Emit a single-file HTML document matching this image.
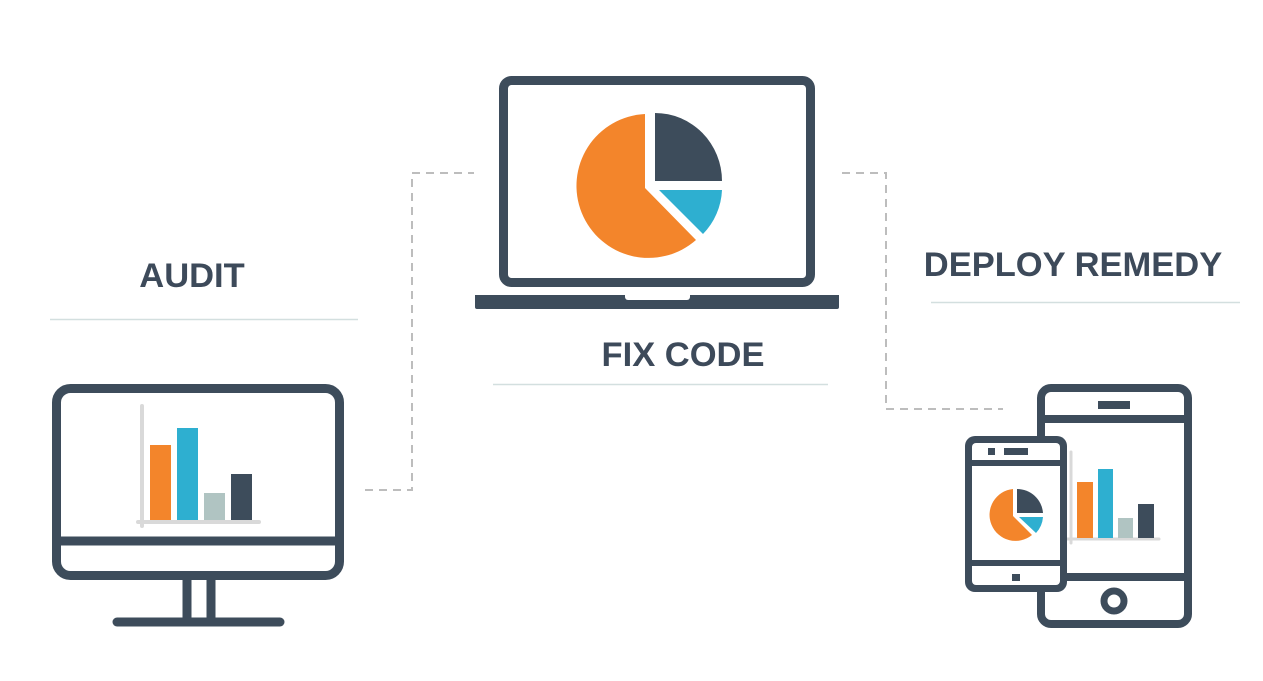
<!DOCTYPE html>
<html><head><meta charset="utf-8"><style>
html,body{margin:0;padding:0;background:#fff;}
body{width:1263px;height:681px;overflow:hidden;position:relative;}
</style></head><body>
<svg width="1263" height="681" viewBox="0 0 1263 681" xmlns="http://www.w3.org/2000/svg" style="position:absolute;left:0;top:0">
<g fill="none" stroke="#bdbdbd" stroke-width="2" stroke-dasharray="8,6">
<polyline points="365,490 412,490 412,173 474,173"/>
<polyline points="842,173 886,173 886,409 1003,409"/>
</g>
<g font-family="Liberation Sans, sans-serif" font-weight="bold" font-size="34.5" fill="#3d4a5a" text-anchor="middle">
<text x="192" y="287">AUDIT</text>
<text x="683" y="366">FIX CODE</text>
<text x="1073" y="276">DEPLOY REMEDY</text>
</g>
<g stroke="#d3dfdf" stroke-width="1.5">
<line x1="50" y1="319.5" x2="358" y2="319.5"/>
<line x1="493" y1="384.5" x2="828" y2="384.5"/>
<line x1="931" y1="302.5" x2="1240" y2="302.5"/>
</g>
<g stroke="#3d4c5b" stroke-width="9" fill="none">
<rect x="56.5" y="388.5" width="283" height="187" rx="14"/>
<line x1="56" y1="541" x2="340" y2="541"/>
<line x1="187" y1="580" x2="187" y2="618"/>
<line x1="211" y1="580" x2="211" y2="618"/>
<line x1="117" y1="622" x2="280" y2="622" stroke-linecap="round"/>
</g>
<g stroke="#d9d9d9" stroke-width="4" stroke-linecap="round">
<line x1="142" y1="406" x2="142" y2="526"/>
<line x1="138" y1="522" x2="259" y2="522"/>
</g>
<rect x="150" y="445" width="21" height="75" fill="#f3852b"/>
<rect x="177" y="428" width="21" height="92" fill="#2eafd0"/>
<rect x="204" y="493" width="21" height="27" fill="#b0c4c2"/>
<rect x="231" y="474" width="21" height="46" fill="#3d4c5b"/>
<rect x="503.5" y="80.5" width="307" height="202" rx="8" stroke="#3d4c5b" stroke-width="9" fill="none"/>
<path d="M475 295 H839 V307 a2 2 0 0 1 -2 2 H477 a2 2 0 0 1 -2 -2 Z" fill="#3d4c5b"/>
<path d="M625 295 H690 V297 a3 3 0 0 1 -3 3 H628 a3 3 0 0 1 -3 -3 Z" fill="#fff"/>
<path d="M655 181 V113 A67 68 0 0 1 722 181 Z" fill="#3d4c5b"/>
<path d="M659 190 H722 A67 67 0 0 1 703 234 Z" fill="#2eafd0"/>
<path d="M645 188 V114 A72 72 0 1 0 696 240 Z" fill="#f3852b"/>
<g stroke="#3d4c5b" stroke-width="8" fill="none">
<rect x="1041" y="388" width="147" height="236" rx="10"/>
<line x1="1041" y1="419" x2="1188" y2="419"/>
<line x1="1041" y1="577" x2="1188" y2="577"/>
<circle cx="1114" cy="601" r="10" stroke-width="7"/>
</g>
<rect x="1098" y="401" width="32" height="8" fill="#3d4c5b"/>
<g stroke="#d9d9d9" stroke-width="3" stroke-linecap="round">
<line x1="1071" y1="452" x2="1071" y2="543"/>
<line x1="1066" y1="539" x2="1159" y2="539"/>
</g>
<rect x="1077" y="482" width="16" height="56" fill="#f3852b"/>
<rect x="1098" y="469" width="15" height="69" fill="#2eafd0"/>
<rect x="1118" y="518" width="15" height="20" fill="#b0c4c2"/>
<rect x="1138" y="504" width="16" height="34" fill="#3d4c5b"/>
<rect x="965" y="436" width="102" height="156" rx="10" fill="#3d4c5b"/>
<rect x="972" y="443" width="88" height="142" rx="4" fill="#fff"/>
<rect x="968" y="460" width="96" height="6" fill="#3d4c5b"/>
<rect x="968" y="560" width="96" height="6" fill="#3d4c5b"/>
<rect x="988" y="448" width="7" height="7" fill="#3d4c5b"/>
<rect x="1004" y="448" width="24" height="7" fill="#3d4c5b"/>
<rect x="1012" y="574" width="8" height="7" fill="#3d4c5b"/>
<path d="M1017 513 V489 A26 26 0 0 1 1043 513 Z" fill="#3d4c5b"/>
<path d="M1019 517 H1043 A26 26 0 0 1 1036 533 Z" fill="#2eafd0"/>
<path d="M1013 516 V489 A26 26 0 1 0 1032 535 Z" fill="#f3852b"/>
</svg>
</body></html>
